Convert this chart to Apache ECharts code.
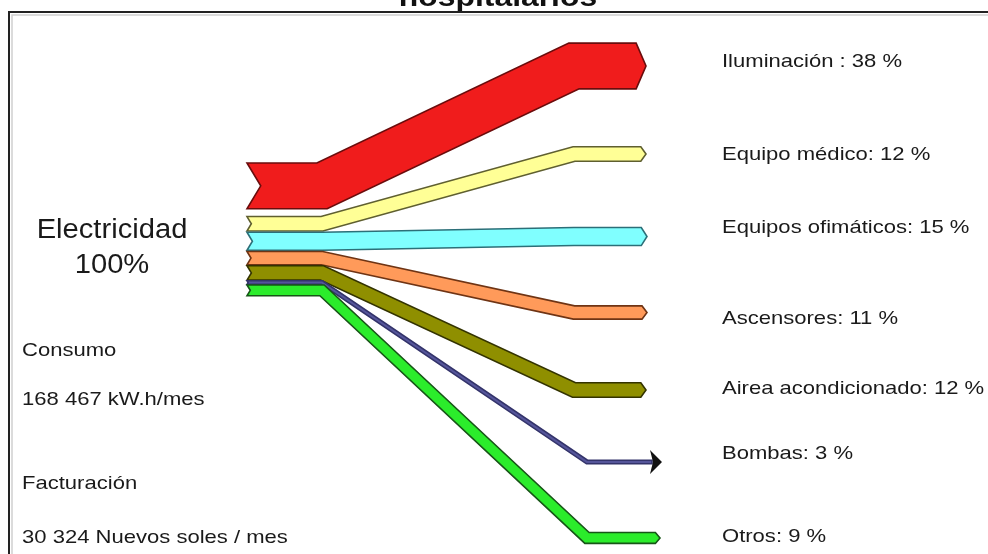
<!DOCTYPE html>
<html>
<head>
<meta charset="utf-8">
<title>Electricidad hospitalarios</title>
<script src="https://cdn.jsdelivr.net/npm/echarts@6/dist/echarts.min.js"></script>
<style>
  html, body { margin: 0; padding: 0; background: #fff; }
  #main { width: 988px; height: 554px; }
</style>
</head>
<body>
<div id="main"></div>
<script>
// datos
const categorias = ['Iluminación', 'Equipo médico', 'Equipos ofimáticos', 'Ascensores', 'Airea acondicionado', 'Bombas', 'Otros'];
const porcentajes = [38, 12, 15, 11, 12, 3, 9];
const totalTexto = ['Electricidad', '100%'];
const consumoTexto = ['Consumo', '168 467 kW.h/mes', 'Facturación', '30 324 Nuevos soles / mes'];

// estilos
const colores = ['#f01c1c', '#ffff96', '#80ffff', '#ff9a5a', '#8f8f00', '#55559a', '#2bec2b'];
const bordes = ['#6a0c0c', '#5f5f30', '#2c6f78', '#6f3414', '#333300', '#33336a', '#175517'];

// disposicion (eje y en unidades de %, eje x en px)
const Y_MAX = 460;
const inicioPila = 135.3;
const separacion = [0, 6.5, 1, 1, 0.8, 0.5, 0.5];
const centroDerecha = [54.8, 127.9, 196.4, 259.5, 323.8, 383.6, 446.7];
const etiquetaY = [51.5, 128.7, 189.3, 264.9, 323.0, 377.0, 445.9];
const X_INICIO = 247, X_CODO = 322, X_ETIQUETA = 722;
const codoDerecha = [574, 574, 574, 574, 574, 587, 587];
const finX = [646, 646, 647, 647, 646, 652, 660];
const FUENTE = '"Liberation Sans", Arial, sans-serif';
const TINTA = '#1a1a1a';

const topes = [];
let acum = inicioPila;
porcentajes.forEach(function (v, i) {
  acum += separacion[i];
  topes.push(acum);
  acum += v;
});

function desplazar(pts, h) {
  const arriba = [], abajo = [];
  const normal = function (a, b) {
    const dx = b[0] - a[0], dy = b[1] - a[1];
    const l = Math.hypot(dx, dy);
    return [-dy / l, dx / l];
  };
  for (let k = 0; k < pts.length; k++) {
    const n1 = k > 0 ? normal(pts[k - 1], pts[k]) : null;
    const n2 = k < pts.length - 1 ? normal(pts[k], pts[k + 1]) : null;
    let m, s;
    if (n1 && n2) {
      m = [n1[0] + n2[0], n1[1] + n2[1]];
      const l = Math.hypot(m[0], m[1]);
      m = [m[0] / l, m[1] / l];
      s = h / (m[0] * n1[0] + m[1] * n1[1]);
    } else {
      m = n1 || n2;
      s = h;
    }
    arriba.push([pts[k][0] - m[0] * s, pts[k][1] - m[1] * s]);
    abajo.push([pts[k][0] + m[0] * s, pts[k][1] + m[1] * s]);
  }
  return [arriba, abajo];
}

function renderItem(params, api) {
  const i = params.dataIndex;
  const v = api.value(1);
  const h = Math.abs(api.size([0, v])[1]) / 2;
  const cl = topes[i] + v / 2;
  const cr = centroDerecha[i];
  const flecha = categorias[i] === 'Bombas';
  const punta = flecha ? 0 : 3 + 0.3 * h;
  const centro = [
    api.coord([X_INICIO, cl]),
    api.coord([X_CODO, cl]),
    api.coord([codoDerecha[i], cr]),
    api.coord([finX[i] - punta, cr])
  ];
  const lados = desplazar(centro, h);
  const muesca = [centro[0][0] + 0.6 * h, centro[0][1]];
  const pts = lados[0].slice();
  if (!flecha) pts.push(api.coord([finX[i], cr]));
  pts.push.apply(pts, lados[1].slice().reverse());
  pts.push(muesca);

  const hijos = [{
    type: 'polygon',
    shape: { points: pts },
    style: { fill: colores[i], stroke: bordes[i], lineWidth: 1.6 }
  }];
  if (flecha) {
    const f = centro[3];
    hijos.push({
      type: 'polygon',
      shape: { points: [[f[0] - 2, f[1] - 12], [f[0] + 10, f[1]], [f[0] - 2, f[1] + 12], [f[0] + 1, f[1]]] },
      style: { fill: '#111' }
    });
  }
  const pe = api.coord([X_ETIQUETA, etiquetaY[i]]);
  hijos.push({
    type: 'text',
    x: pe[0], y: pe[1], scaleX: 1.16,
    style: {
      text: categorias[i] + (i === 0 ? ' : ' : ': ') + v + ' %',
      fill: TINTA, fontSize: 19, fontFamily: FUENTE,
      align: 'left', verticalAlign: 'middle'
    }
  });
  return { type: 'group', children: hijos };
}

function texto(t, x, y, opts) {
  return Object.assign({
    type: 'text', x: x, y: y, scaleX: 1.16,
    style: { text: t, fill: TINTA, fontSize: 19, fontFamily: FUENTE, align: 'left', verticalAlign: 'middle' }
  }, opts || {});
}

const chart = echarts.init(document.getElementById('main'));
chart.setOption({
  animation: false,
  backgroundColor: '#fff',
  grid: { left: 0, right: 0, top: 0, bottom: 0 },
  xAxis: { type: 'value', min: 0, max: 988, show: false },
  yAxis: { type: 'value', min: 0, max: Y_MAX, inverse: true, show: false },
  graphic: [
    {
      type: 'text', x: 498, y: -1, scaleX: 1.18,
      style: { text: 'hospitalarios', fill: '#111', fontSize: 27, fontWeight: 'bold', fontFamily: FUENTE, align: 'center', verticalAlign: 'middle' }
    },
    { type: 'rect', shape: { x: 9, y: 12, width: 1100, height: 700 }, style: { fill: '#fff', stroke: '#222', lineWidth: 2 } },
    { type: 'rect', shape: { x: 12, y: 15, width: 1100, height: 700 }, style: { fill: 'none', stroke: '#d0d0d0', lineWidth: 1.5 } },
    texto(totalTexto[0], 112, 231, { scaleX: 1.08, style: { text: totalTexto[0], fill: TINTA, fontSize: 27, fontFamily: FUENTE, align: 'center', verticalAlign: 'middle' } }),
    texto(totalTexto[1], 112, 266, { scaleX: 1.08, style: { text: totalTexto[1], fill: TINTA, fontSize: 27, fontFamily: FUENTE, align: 'center', verticalAlign: 'middle' } }),
    texto(consumoTexto[0], 22, 351),
    texto(consumoTexto[1], 22, 400),
    texto(consumoTexto[2], 22, 484),
    texto(consumoTexto[3], 22, 538)
  ],
  series: [{
    type: 'custom',
    silent: true,
    clip: false,
    z: 5,
    renderItem: renderItem,
    data: porcentajes.map(function (v, i) { return [i, v]; })
  }]
});
</script>
</body>
</html>
